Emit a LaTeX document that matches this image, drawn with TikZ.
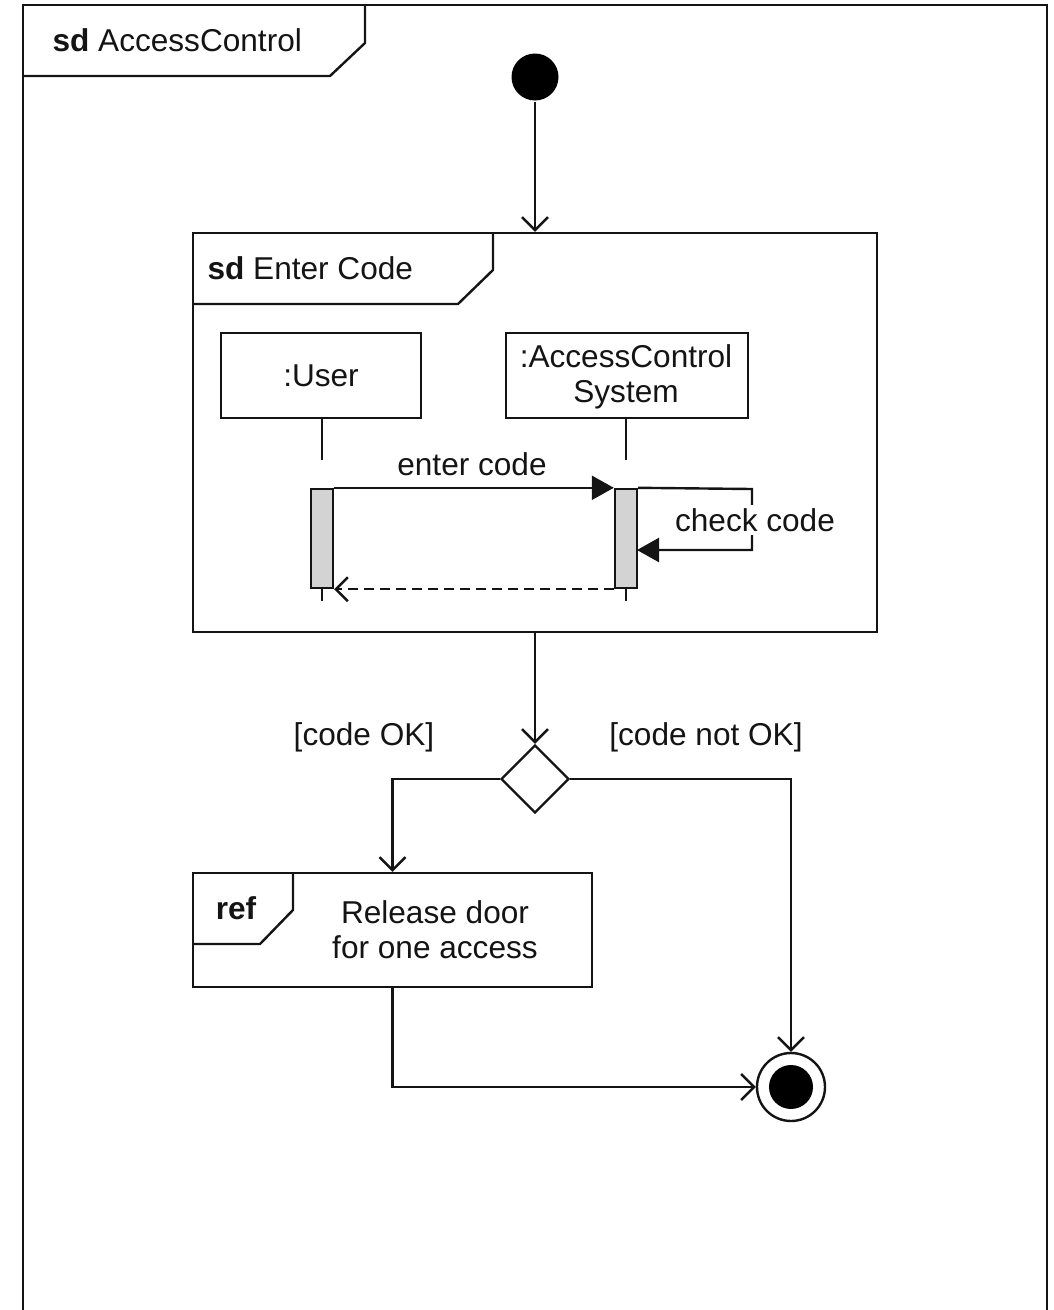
\documentclass[tikz,border=0pt]{standalone}
\usepackage{fontspec}
\setmainfont{Liberation Sans}
\usetikzlibrary{arrows.meta,shapes.geometric}
\definecolor{actfill}{RGB}{211,211,211}
\definecolor{inkc}{RGB}{20,20,20}
\begin{document}
\begin{tikzpicture}[x=1pt,y=-1pt,line width=2.4pt,draw=inkc,
  every node/.style={font=\fontsize{31.6}{35}\selectfont,text=inkc},
  box/.style={draw,rectangle,inner sep=0pt},
  actbar/.style={draw,fill=actfill,rectangle,inner sep=0pt,minimum width=22pt,minimum height=99pt},
  flow/.style={-{Straight Barb[length=13pt,width=26pt,line width=2.4pt]}},
  msg/.style={-{Triangle[length=22pt,width=24pt]}},
  reply/.style={dash pattern=on 10pt off 6pt,-{Straight Barb[length=12pt,width=24pt,line width=2.4pt]}},
  tabline/.style={line width=2.4pt}]
\useasboundingbox (0,0) rectangle (1053,1310);
% outer frame
\draw (23,1310) -- (23,5) -- (1047,5) -- (1047,1310);
\draw[tabline] (365,5) -- (365,43) -- (330,76) -- (23,76);
\node[anchor=west] (outerlabel) at (48,40) {\textbf{sd} AccessControl};
% initial node
\node[circle,fill=black,draw=none,minimum size=47pt,inner sep=0pt] (init) at (535,77) {};
% Enter Code frame
\node[box,minimum width=684pt,minimum height=399pt] (ec) at (535,432.5) {};
\draw[tabline] (493,233) -- (493,270) -- (458,304) -- (193,304);
\node[anchor=west] (eclabel) at (203,268) {\textbf{sd} Enter Code};
\draw[flow] (init) -- (ec.north);
% lifelines
\node[box,minimum width=200pt,minimum height=85pt] (user) at (321,375.5) {:User};
\node[box,minimum width=242pt,minimum height=85pt,align=center] (acs) at (627,375.5) {};
\node[align=center] (acstext) at (626,377) {:AccessControl\\System};
\node[actbar] (ua) at (322,538.5) {};
\node[actbar] (aa) at (626,538.5) {};
\coordinate (ul1) at (322,460);
\coordinate (ul2) at (322,601);
\coordinate (al1) at (626,460);
\coordinate (al2) at (626,601);
\draw (user.south -| ul1) -- (ul1);
\draw (ua.south) -- (ul2);
\draw (acs.south -| al1) -- (al1);
\draw (aa.south) -- (al2);
% messages
\draw[msg] (ua.north east) -- (aa.north west);
\node (m1) at (472,464) {enter code};
\coordinate (sm1) at (752,489);
\coordinate (sm2) at (752,550);
\coordinate (sm3) at (637,550);
\draw[msg] (aa.north east) -- (sm1) -- (sm2) -- (sm3);
\node[fill=white,inner sep=3pt] (m2) at (755,520) {check code};
\draw[reply] (aa.south west) -- (ua.south east);
% decision
\node[diamond,draw,minimum width=68pt,minimum height=68pt,inner sep=0pt] (dec) at (535,779) {};
\draw[flow] (ec.south) -- (dec.north);
\node (g1) at (364,737) {[code OK]};
\node (g2) at (706,737) {[code not OK]};
% ref frame
\node[box,minimum width=399pt,minimum height=114pt] (ref) at (392.5,930) {};
\draw[tabline] (293,873) -- (293,910) -- (260,944) -- (193,944);
\node (reflabel) at (236,908) {\textbf{ref}};
\node[align=center] (reftext) at (435,930) {Release door\\for one access};
% final node
\node[circle,draw,fill=white,minimum size=68pt,inner sep=0pt] (fin) at (791,1087) {};
\node[circle,fill=black,draw=none,minimum size=44pt,inner sep=0pt] (fininner) at (fin) {};
% flows
\draw[flow] (dec.west) -| (ref.north);
\draw[flow] (dec.east) -| (fin.north);
\draw[flow] (ref.south) |- (fin.west);
\end{tikzpicture}
\end{document}
